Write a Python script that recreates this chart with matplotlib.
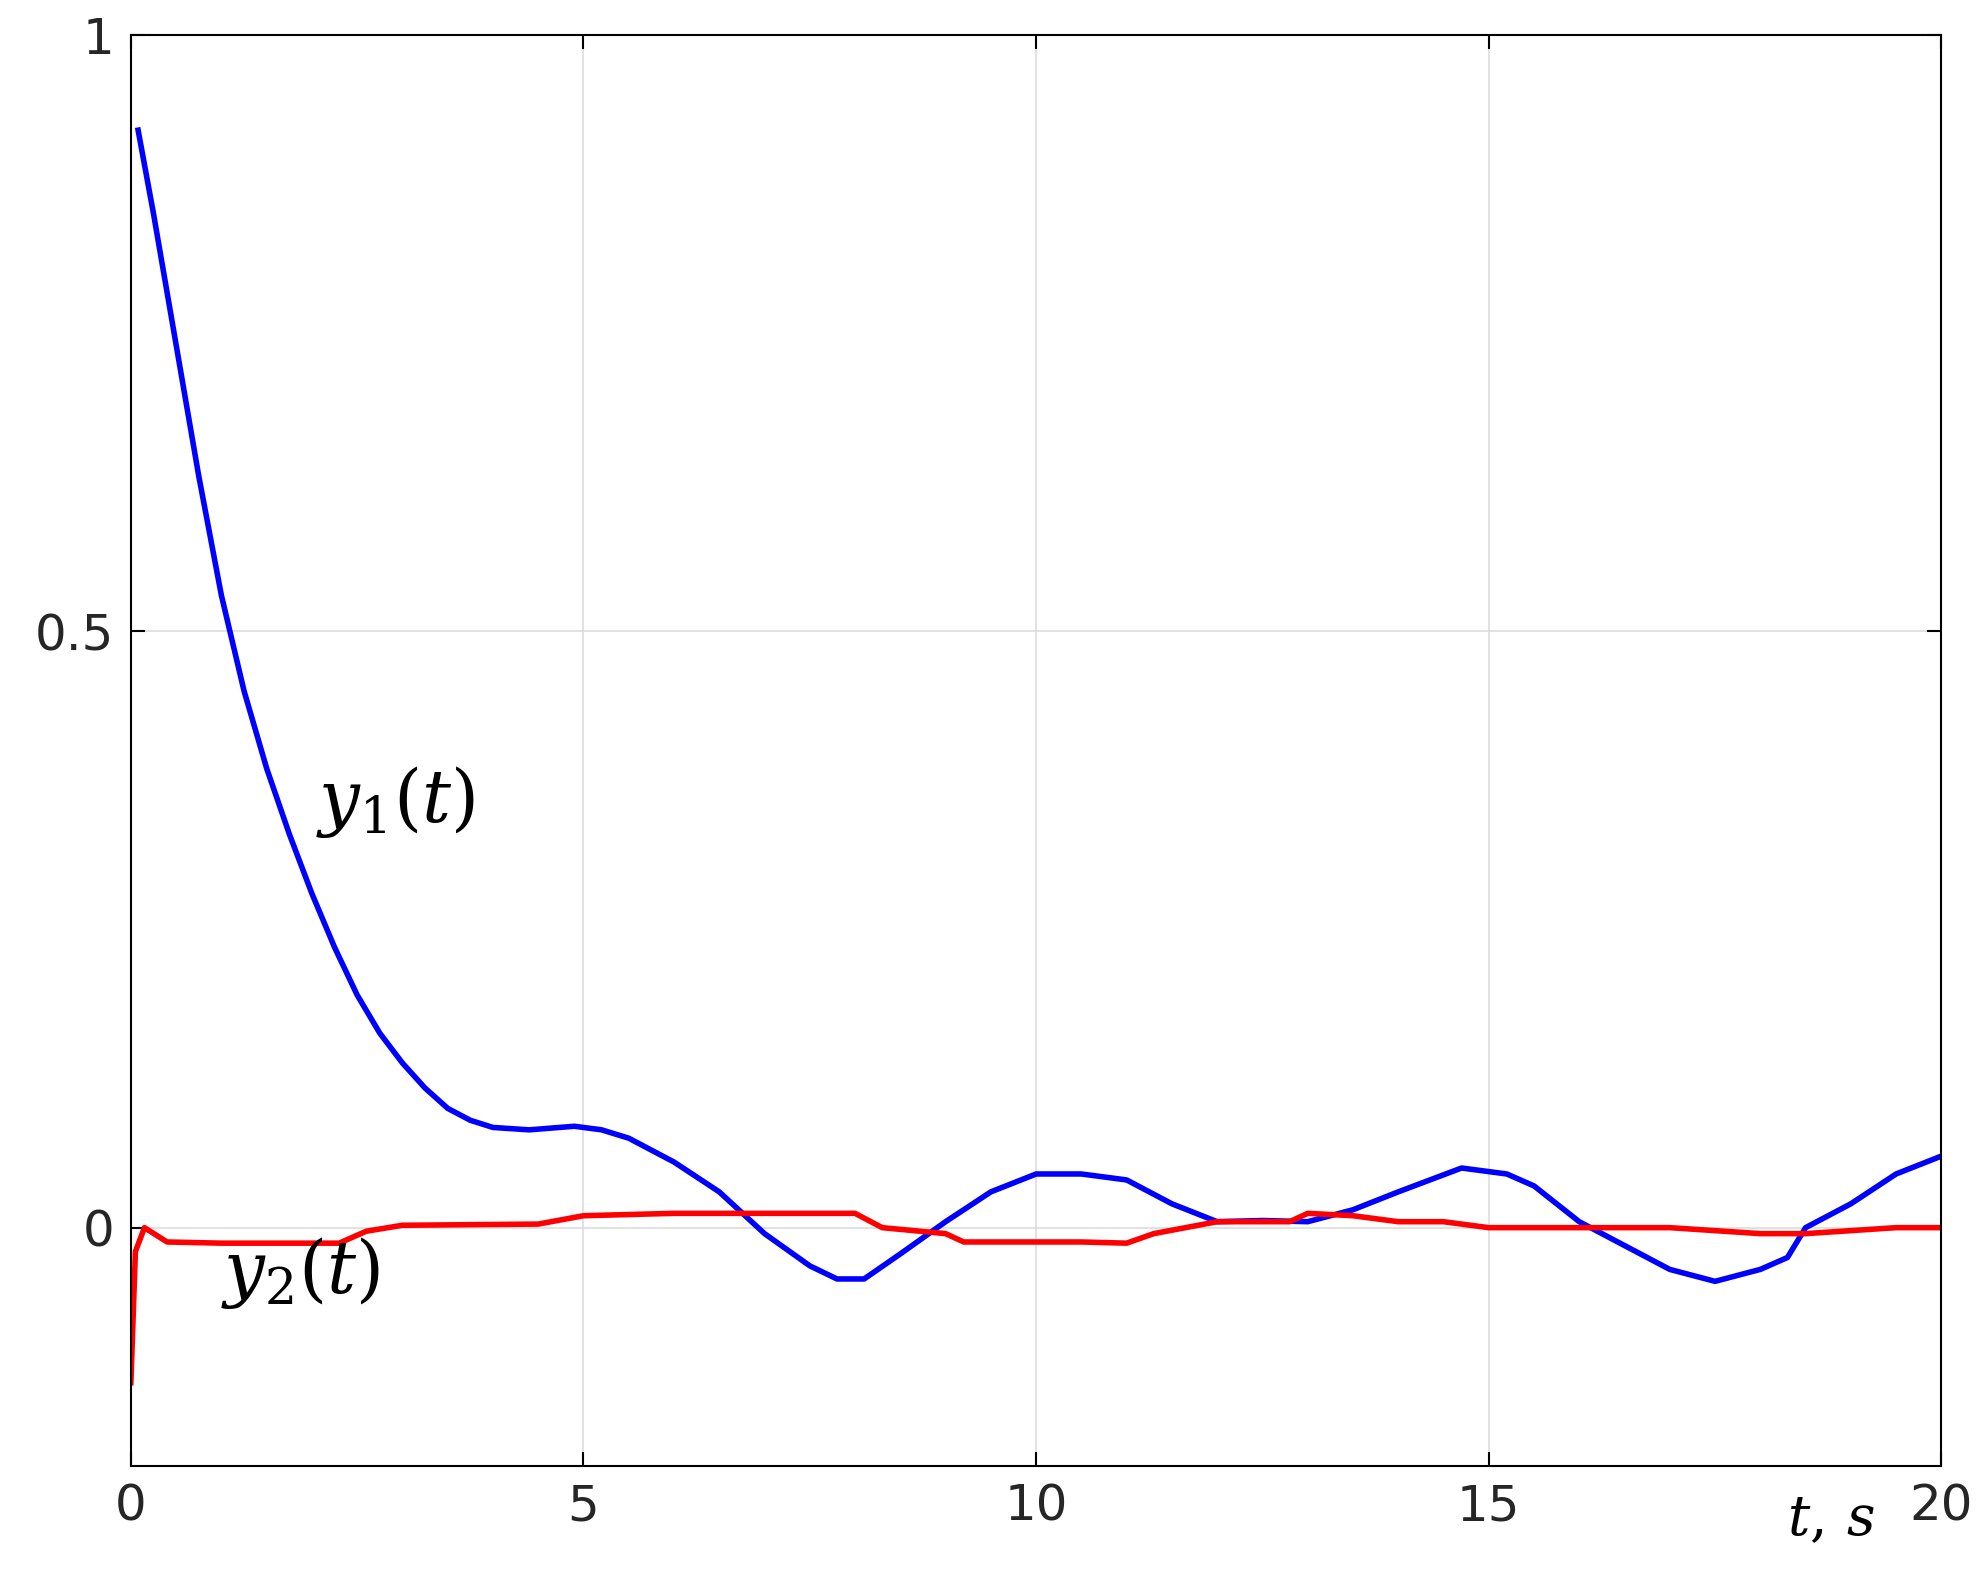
import matplotlib
matplotlib.use("Agg")
import matplotlib.pyplot as plt
plt.rcParams['mathtext.fontset'] = 'dejavuserif'

t1 = [0.08, 0.25, 0.5, 0.75, 1.0, 1.25, 1.5, 1.75, 2.0, 2.25, 2.5, 2.75, 3.0, 3.25, 3.5, 3.75, 4.0, 4.4, 4.9, 5.2, 5.5, 6.0, 6.5, 7.0, 7.5, 7.8, 8.1, 8.5, 9.0, 9.5, 10.0, 10.5, 11.0, 11.5, 12.0, 12.5, 13.0, 13.5, 14.0, 14.7, 15.2, 15.5, 16.0, 16.5, 17.0, 17.5, 18.0, 18.3, 18.5, 19.0, 19.5, 20.0]
y1 = [0.92, 0.85, 0.74, 0.63, 0.53, 0.45, 0.385, 0.33, 0.28, 0.235, 0.195, 0.163, 0.138, 0.117, 0.100, 0.090, 0.084, 0.082, 0.085, 0.082, 0.075, 0.055, 0.030, -0.005, -0.032, -0.043, -0.043, -0.022, 0.005, 0.030, 0.045, 0.045, 0.040, 0.020, 0.005, 0.006, 0.005, 0.015, 0.030, 0.050, 0.045, 0.035, 0.005, -0.015, -0.035, -0.045, -0.035, -0.025, 0.0, 0.020, 0.045, 0.060]
t2 = [0.0, 0.05, 0.15, 0.4, 1.0, 2.3, 2.6, 3.0, 4.5, 5.0, 6.0, 8.0, 8.3, 9.0, 9.2, 10.5, 11.0, 11.3, 12.0, 12.8, 13.0, 13.5, 14.0, 14.5, 15.0, 17.0, 18.0, 18.5, 19.5, 20.0]
y2 = [-0.13, -0.02, 0.0, -0.012, -0.013, -0.013, -0.003, 0.002, 0.003, 0.010, 0.012, 0.012, 0.0, -0.005, -0.012, -0.012, -0.013, -0.005, 0.005, 0.005, 0.012, 0.010, 0.005, 0.005, 0.0, 0.0, -0.005, -0.005, 0.0, 0.0]

fig = plt.figure(figsize=(19.83, 15.80), dpi=100)
ax = fig.add_axes([0.066, 0.072, 0.913, 0.906])
ax.plot(t1, y1, color='#0000ff', lw=4)
ax.plot(t2, y2, color='#ff0000', lw=4)
ax.set_xlim(0, 20)
ax.set_ylim(-0.2, 1)
ax.set_xticks([0, 5, 10, 15, 20])
ax.set_yticks([0, 0.5, 1])
ax.set_yticklabels(['0', '0.5', '1'])
ax.grid(True, color='#dddddd', lw=1.2)
ax.tick_params(direction='in', top=True, right=True, labelsize=36, length=10, width=1.5, pad=12, labelcolor='#262626')
for s in ax.spines.values():
    s.set_linewidth(1.5)
ax.text(2.05, 0.34, r'$y_1(t)$', fontsize=52)
ax.text(1.0, -0.055, r'$y_2(t)$', fontsize=52)
ax.text(18.3, -0.245, r'$t,\,s$', fontsize=40, va='center')
fig.savefig('out.png', dpi=100)
